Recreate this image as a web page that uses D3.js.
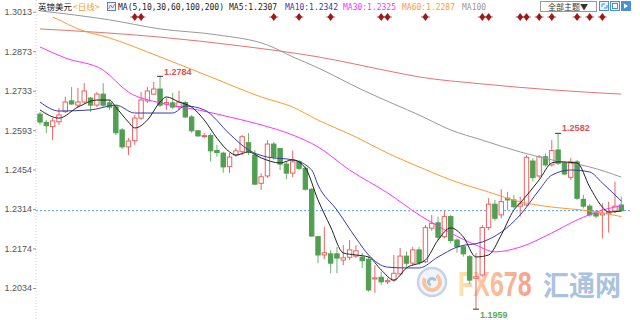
<!DOCTYPE html>
<html><head><meta charset="utf-8">
<script src="https://cdn.jsdelivr.net/npm/d3@7"></script>
<style>html,body{margin:0;padding:0;background:#fff;overflow:hidden}</style>
</head><body><svg id="c" width="640" height="320"></svg>
<script>
// ---------- data ----------
const openV=[1.2650,1.2621,1.2606,1.2623,1.2659,1.2697,1.2682,1.2693,1.2707,1.2682,1.2721,1.2690,1.2676,1.2594,1.2534,1.2556,1.2636,1.2697,1.2721,1.2739,
1.2686,1.2690,1.2676,1.2691,1.2640,1.2591,1.2572,1.2574,1.2521,1.2512,1.2464,1.2505,1.2517,1.2549,1.2505,1.2405,1.2431,1.2544,1.2528,1.2473,
1.2441,1.2481,1.2458,1.2384,1.2216,1.2151,1.2155,1.2155,1.2133,1.2143,1.2147,1.2143,1.2136,1.2066,1.2072,1.2056,1.2062,1.2084,1.2147,1.2122,
1.2169,1.2127,1.2246,1.2265,1.2216,1.2287,1.2204,1.2180,1.2145,1.2068,1.2080,1.2248,1.2331,1.2293,1.2352,1.2346,1.2324,1.2328,1.2484,1.2431,
1.2499,1.2470,1.2523,1.2476,1.2426,1.2481,1.2348,1.2324,1.2299,1.2293,1.2299,1.2307,1.2328];
const highV=[1.2658,1.2629,1.2636,1.2672,1.2712,1.2746,1.2743,1.2760,1.2711,1.2728,1.2760,1.2700,1.2682,1.2601,1.2565,1.2647,1.2728,1.2746,1.2764,1.2784,
1.2707,1.2726,1.2733,1.2698,1.2647,1.2594,1.2583,1.2583,1.2541,1.2517,1.2512,1.2530,1.2576,1.2583,1.2523,1.2441,1.2558,1.2552,1.2530,1.2481,
1.2521,1.2488,1.2464,1.2388,1.2218,1.2251,1.2169,1.2180,1.2186,1.2204,1.2186,1.2158,1.2145,1.2115,1.2092,1.2069,1.2151,1.2176,1.2163,1.2180,
1.2180,1.2257,1.2293,1.2287,1.2307,1.2293,1.2210,1.2186,1.2151,1.2158,1.2257,1.2352,1.2346,1.2384,1.2375,1.2364,1.2358,1.2505,1.2494,1.2505,
1.2511,1.2558,1.2582,1.2481,1.2494,1.2488,1.2364,1.2332,1.2310,1.2334,1.2340,1.2411,1.2358];
const lowV=[1.2612,1.2583,1.2558,1.2612,1.2654,1.2682,1.2675,1.2690,1.2658,1.2675,1.2675,1.2665,1.2576,1.2527,1.2505,1.2541,1.2629,1.2690,1.2718,1.2675,
1.2665,1.2668,1.2665,1.2636,1.2584,1.2569,1.2565,1.2482,1.2499,1.2442,1.2442,1.2499,1.2505,1.2505,1.2399,1.2381,1.2424,1.2488,1.2452,1.2419,
1.2426,1.2452,1.2379,1.2216,1.2122,1.2136,1.2086,1.2086,1.2115,1.2133,1.2140,1.2105,1.2021,1.2017,1.2045,1.2048,1.2056,1.2080,1.2109,1.2112,
1.2115,1.2122,1.2237,1.2204,1.2210,1.2192,1.2159,1.2145,1.2048,1.1959,1.2074,1.2239,1.2272,1.2281,1.2310,1.2316,1.2287,1.2324,1.2411,1.2423,
1.2464,1.2464,1.2470,1.2434,1.2417,1.2346,1.2316,1.2287,1.2281,1.2210,1.2230,1.2299,1.2304];
const closeV=[1.2622,1.2609,1.2626,1.2647,1.2693,1.2686,1.2693,1.2732,1.2682,1.2721,1.2682,1.2675,1.2584,1.2534,1.2555,1.2636,1.2700,1.2732,1.2739,1.2682,
1.2691,1.2675,1.2693,1.2640,1.2591,1.2573,1.2574,1.2520,1.2514,1.2463,1.2498,1.2520,1.2570,1.2517,1.2402,1.2428,1.2544,1.2498,1.2473,1.2441,
1.2481,1.2458,1.2384,1.2218,1.2151,1.2159,1.2122,1.2140,1.2141,1.2169,1.2166,1.2131,1.2027,1.2070,1.2056,1.2060,1.2086,1.2147,1.2122,1.2169,
1.2124,1.2248,1.2263,1.2214,1.2287,1.2202,1.2180,1.2155,1.2062,1.2074,1.2248,1.2331,1.2281,1.2340,1.2346,1.2322,1.2332,1.2497,1.2425,1.2499,
1.2470,1.2521,1.2476,1.2438,1.2481,1.2352,1.2324,1.2293,1.2289,1.2299,1.2304,1.2324,1.2308];

// moving-average lines: [candle index, value]
const ma5Idx=[0,3,6,9,11,12,14,15,17,19,20,22,24,26,28,30,31,33,35,38,40,42,44,46,48,50,52,54,56,58,61,63,65,67,69,71,73,75,76,79,81,82,85,87,89,90,92];
const ma5Val=[1.2665,1.2636,1.2675,1.2700,1.2700,1.2675,1.2622,1.2601,1.2629,1.2693,1.2711,1.2693,1.2675,1.2629,1.2565,1.2516,1.2505,1.2516,1.2495,1.2477,1.2488,1.2459,1.2346,1.2250,1.2158,1.2151,1.2144,1.2098,1.2062,1.2105,1.2133,1.2204,1.2247,1.2215,1.2144,1.2151,1.2222,1.2310,1.2335,1.2417,1.2477,1.2481,1.2477,1.2392,1.2321,1.2303,1.2307];
const ma10Idx=[0,3,8,12,15,21,23,26,30,33,36,40,43,44,47,50,52,55,58,60,63,66,70,73,76,79,81,84,87,89,92];
const ma10Val=[1.2693,1.2661,1.2665,1.2682,1.2654,1.2654,1.2679,1.2665,1.2580,1.2523,1.2498,1.2488,1.2452,1.2399,1.2310,1.2211,1.2151,1.2108,1.2105,1.2105,1.2144,1.2179,1.2197,1.2232,1.2293,1.2381,1.2434,1.2452,1.2445,1.2406,1.2342];
const ma30Idx=[0,4,10,14,19,25,30,35,40,44,49,55,60,65,69,72,76,81,85,89,92];
const ma30Val=[1.2888,1.2849,1.2806,1.2728,1.2690,1.2665,1.2640,1.2612,1.2576,1.2534,1.2452,1.2371,1.2293,1.2229,1.2186,1.2162,1.2179,1.2229,1.2275,1.2310,1.2325];
const ma60Idx=[2,3,6,11,19,27,35,40,44,50,55,60,65,71,76,81,87,92];
const ma60Val=[1.2994,1.2984,1.2952,1.2920,1.2853,1.2782,1.2711,1.2675,1.2629,1.2569,1.2512,1.2463,1.2417,1.2374,1.2339,1.2321,1.2307,1.2287];
const ma100Idx=[0,11,19,28,36,40,44,51,56,60,65,70,76,81,87,92];
const ma100Val=[1.3016,1.2984,1.2952,1.2931,1.2895,1.2853,1.2814,1.2736,1.2686,1.2647,1.2594,1.2558,1.2516,1.2488,1.2463,1.2427];
const ma200Idx=[0,19,32,44,56,60,70,81,92];
const ma200Val=[1.2952,1.2923,1.2891,1.2853,1.2799,1.2782,1.2757,1.2736,1.2721];

const yTicks=[1.3013,1.2873,1.2733,1.2593,1.2454,1.2314,1.2174,1.2034];
const eventIdx=[15,16,37,41,46,54,55,61,70,71,76,77,79,81,85,87,89];
const maNames=['MA5','MA10','MA30','MA60','MA100'];
const maLast=[1.2307,1.2342,1.2325,1.2287,null];
const maColors=['#222222','#3a3aa8','#ff33ff','#ff9a33','#999999','#e87272'];
const titleText='英镑美元', periodText='<日线>', maParamText='MA(5,10,30,60,100,200)';
const hiIdx=19, hiVal=1.2784, hi2Idx=82, hi2Val=1.2582, loIdx=69, loVal=1.1959;
const lastPrice=closeV[closeV.length-1];

// ---------- drawing ----------
const RED='#ec6262', GREEN='#519f51';
const svg=d3.select('#c');
const x=d3.scaleLinear().domain([0,92]).range([40,621.3]);
const y=d3.scaleLinear().domain([1.2034,1.3013]).range([288,11.7]);

const defs=svg.append('defs');
defs.append('clipPath').attr('id','pc').append('rect').attr('x',36).attr('y',0).attr('width',604).attr('height',320);
const gr=defs.append('linearGradient').attr('id','wm').attr('x1','0%').attr('x2','100%');
gr.append('stop').attr('offset','0%').attr('stop-color','#fde6b0');
gr.append('stop').attr('offset','30%').attr('stop-color','#fbc79d');
gr.append('stop').attr('offset','100%').attr('stop-color','#f6a08c');

// watermark
const wm=svg.append('g');
wm.append('circle').attr('cx',432).attr('cy',282).attr('r',14).attr('fill','#f1f5fb').attr('stroke','#c3d4ea').attr('stroke-width',2.5);
wm.append('path').attr('d',d3.arc()({innerRadius:6,outerRadius:10,startAngle:0.6,endAngle:5.2})).attr('transform','translate(432,282)').attr('fill','#f7c49c');
wm.append('path').attr('d',d3.arc()({innerRadius:2,outerRadius:5,startAngle:3.5,endAngle:7.5})).attr('transform','translate(432,282)').attr('fill','#a9c2e0');
wm.append('text').attr('transform','translate(458,296) scale(1,1.38)').attr('font-family','Liberation Sans, Arial').attr('font-weight','bold').attr('font-size',25)
  .attr('fill','url(#wm)').text('FX678');
wm.append('text').attr('transform','translate(543,296) scale(1,1.08)').attr('font-family','Noto Sans CJK SC').attr('font-weight','bold').attr('font-size',26)
  .attr('fill','#aac2df').text('汇通网');

// axis
svg.append('line').attr('x1',36).attr('x2',36).attr('y1',0).attr('y2',320).attr('stroke','#cfcfcf').attr('stroke-dasharray','1,2');
const ga=svg.append('g').attr('transform','translate(36,0)')
  .call(d3.axisLeft(y).tickValues(yTicks).tickFormat(d3.format('.4f')).tickSize(3).tickPadding(1));
ga.select('.domain').remove();
ga.selectAll('line').attr('stroke','#999');
ga.selectAll('text').attr('font-family','Liberation Sans, Arial').attr('font-size',9).attr('fill','#555');

// current price line
svg.append('line').attr('x1',36).attr('x2',632).attr('y1',y(lastPrice)).attr('y2',y(lastPrice))
  .attr('stroke','#4aa3f0').attr('stroke-width',1).attr('stroke-dasharray','2,2');

const plot=svg.append('g').attr('clip-path','url(#pc)');

// candles
const data=openV.map((o,i)=>({i,o,h:highV[i],l:lowV[i],c:closeV[i]}));
const up=d=>d.c>=d.o;
const bw=4.4;
plot.selectAll('line.w').data(data).join('line').attr('class','w')
  .attr('x1',d=>x(d.i)).attr('x2',d=>x(d.i)).attr('y1',d=>y(d.h)).attr('y2',d=>y(d.l))
  .attr('stroke',d=>up(d)?RED:'#6fb36f').attr('stroke-width',1);
plot.selectAll('rect.b').data(data).join('rect').attr('class','b')
  .attr('x',d=>x(d.i)-bw/2).attr('width',bw)
  .attr('y',d=>y(Math.max(d.o,d.c)))
  .attr('height',d=>Math.max(1,Math.abs(y(d.o)-y(d.c))))
  .attr('fill',d=>up(d)?'#fff':GREEN).attr('stroke',d=>up(d)?RED:GREEN).attr('stroke-width',1);

// MA lines
const lineGen=d3.line().x(d=>x(d[0])).y(d=>y(d[1])).curve(d3.curveMonotoneX);
const maSets=[[ma200Idx,ma200Val,5],[ma100Idx,ma100Val,4],[ma60Idx,ma60Val,3],[ma30Idx,ma30Val,2],[ma10Idx,ma10Val,1],[ma5Idx,ma5Val,0]];
maSets.forEach(([ix,vv,ci])=>{
  plot.append('path').datum(ix.map((k,j)=>[k,vv[j]])).attr('d',lineGen)
    .attr('fill','none').attr('stroke',maColors[ci]).attr('stroke-width',1);
});

// high / low labels
function mark(idx,val,col,dy,txt){
  const cx=x(idx), cy=y(val);
  svg.append('line').attr('x1',cx-3).attr('x2',cx+3).attr('y1',cy).attr('y2',cy).attr('stroke','#333');
  svg.append('text').attr('x',cx+4).attr('y',cy+dy).attr('font-family','Liberation Sans, Arial').attr('font-weight','bold')
    .attr('font-size',9).attr('fill',col).text(txt);
}
mark(hiIdx,hiVal,'#e05050',-1.5,d3.format('.4f')(hiVal));
mark(hi2Idx,hi2Val,'#e05050',-2,d3.format('.4f')(hi2Val));
mark(loIdx,loVal,'#5fa85f',8.5,d3.format('.4f')(loVal));

// event diamonds
const ev=svg.append('g');
eventIdx.forEach(k=>{
  const cx=x(k), cy=17;
  ev.append('line').attr('x1',cx-4.5).attr('x2',cx+4.5).attr('y1',cy).attr('y2',cy).attr('stroke','#b04040').attr('stroke-width',0.8);
  ev.append('path').attr('d',`M${cx},${cy-4}L${cx+3},${cy}L${cx},${cy+4}L${cx-3},${cy}Z`).attr('fill','#9e1a1a');
});

// legend
const lg=svg.append('g');
lg.append('text').attr('x',38).attr('y',10).attr('font-family','Noto Sans CJK SC').attr('font-size',8.5).attr('fill','#222').text(titleText);
lg.append('text').attr('x',73).attr('y',10).attr('font-family','Noto Sans CJK SC').attr('font-size',8.5).attr('fill','#f0a030').text(periodText);
lg.append('rect').attr('x',107.5).attr('y',2.5).attr('width',8).attr('height',8).attr('fill','#eef3fb').attr('stroke','#5d7fc0');
lg.append('polyline').attr('points','108.5,9 110.5,5 112.5,8 115,4').attr('fill','none').attr('stroke','#d04040').attr('stroke-width',0.8);
const mono='DejaVu Sans Mono, Liberation Mono, monospace';
lg.append('text').attr('x',118).attr('y',10).attr('font-family',mono).attr('font-size',8).attr('fill','#222').text(maParamText);
const legX=[229,285,343,402,462];
maNames.forEach((n,k)=>{
  lg.append('text').attr('x',legX[k]).attr('y',10).attr('font-family',mono).attr('font-size',8).attr('fill',maColors[k])
    .text(maLast[k]==null?n:n+':'+d3.format('.4f')(maLast[k]));
});

// top-right controls
const tb=svg.append('g');
tb.append('rect').attr('x',540.5).attr('y',1.5).attr('width',56).attr('height',10).attr('fill','#fff').attr('stroke','#9a9a9a');
tb.append('text').attr('x',548).attr('y',9.8).attr('font-family','Noto Sans CJK SC').attr('font-size',8).attr('fill','#333').text('全部主题▼');
[599,610,621].forEach((bx,k)=>{
  tb.append('rect').attr('x',bx+0.5).attr('y',1.5).attr('width',9).attr('height',9)
    .attr('fill',k===2?'#4b8fd8':'#e8f1fc').attr('stroke','#4b8fd8');
});
tb.append('path').attr('d','M602,4h3M602,4v3M607,8h-3M607,8v-3').attr('stroke','#4b8fd8').attr('fill','none');
tb.append('rect').attr('x',612.5).attr('y',3.5).attr('width',5).attr('height',5).attr('fill','#fff').attr('stroke','#4b8fd8');
tb.append('path').attr('d','M624,3.5L628,6L624,8.5Z').attr('fill','#fff');
</script></body></html>
